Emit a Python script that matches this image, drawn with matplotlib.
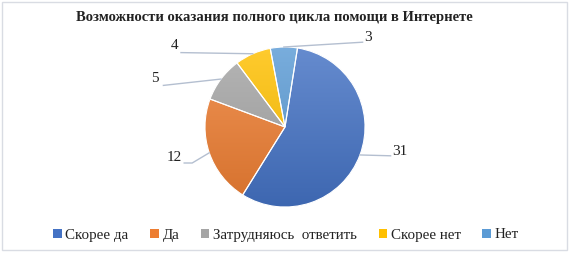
import matplotlib
matplotlib.use("Agg")
import matplotlib.pyplot as plt
import numpy as np
from matplotlib.patches import Rectangle
from matplotlib.colors import to_rgb

categories = ["Скорее да", "Да", "Затрудняюсь  ответить", "Скорее нет", "Нет"]
values = [31, 12, 5, 4, 3]
colors = ["#4472C4", "#ED7D31", "#A5A5A5", "#FFC000", "#5B9BD5"]
title = "Возможности оказания полного цикла помощи в Интернете"

plt.rcParams['font.family'] = ['Liberation Serif', 'DejaVu Serif']

fig = plt.figure(figsize=(5.72, 2.57), dpi=100)
fig.patch.set_facecolor("white")
fig.patches.append(Rectangle((2/572, 7/257), 565/572, 248/257, transform=fig.transFigure,
                             fill=False, edgecolor="#D9DCE3", linewidth=1.0))

# pie axes: center (285,127), radius 80 px
r_px = 80
cx, cy = 285, 127
ax = fig.add_axes([(cx - r_px) / 572, (257 - cy - r_px) / 257, 2 * r_px / 572, 2 * r_px / 257])
wedges, _ = ax.pie(values, colors=colors, startangle=81, counterclock=False,
                   wedgeprops=dict(linewidth=0.8, edgecolor="white"))
ax.set_xlim(-1, 1); ax.set_ylim(-1, 1)
ax.set_aspect('auto')
ax.axis('off')

# vertical gradient fill (lighter at top, darker at bottom), clipped to each wedge
yy = np.linspace(0, 1, 200)[:, None]
for w, c in zip(wedges, colors):
    base = np.array(to_rgb(c))
    top = base + (1 - base) * 0.18
    bot = base * 0.90
    grad = top[None, None, :] * yy[..., None] + bot[None, None, :] * (1 - yy[..., None])
    grad = np.repeat(grad, 2, axis=1)
    im = ax.imshow(grad, extent=(-1, 1, -1, 1), origin='lower', aspect='auto', zorder=w.get_zorder() + 0.1)
    im.set_clip_path(w)
    ax.add_patch(matplotlib.patches.Wedge(w.center, w.r, w.theta1, w.theta2, facecolor='none',
                                          edgecolor='white', linewidth=0.8, zorder=w.get_zorder() + 0.2))
ax.set_xlim(-1, 1); ax.set_ylim(-1, 1)

# label positions (pie units) and leader line bends
label_pos = [(1.43, -0.31), (-1.38, -0.38), (-1.63, 0.61), (-1.38, 1.02), (1.04, 1.12)]
line_pts = [
    [(1.32, -0.36)],
    [(-1.16, -0.45), (-1.26, -0.45)],
    [(-1.52, 0.52)],
    [(-1.30, 0.93)],
    [(0.97, 1.06)],
]
for w, v, lp, pts in zip(wedges, values, label_pos, line_pts):
    ang = np.deg2rad((w.theta1 + w.theta2) / 2)
    ex, ey = np.cos(ang), np.sin(ang)
    xs = [ex] + [p[0] for p in pts]
    ys = [ey] + [p[1] for p in pts]
    ax.plot(xs, ys, color="#B4BFD0", lw=1.0, clip_on=False, zorder=5)
    ax.text(lp[0], lp[1], str(v), ha='center', va='center', fontsize=11, color="#222222")

fig.text(274/572, 1 - 18/257, title, ha='center', va='center', fontsize=10.5,
         fontweight='bold', color="#222222")

handles = [Rectangle((0, 0), 1, 1, facecolor=c, edgecolor='none') for c in colors]
leg = fig.legend(handles, categories, loc='center', bbox_to_anchor=(286/572, 1 - 235/257),
                 ncol=5, frameon=False, fontsize=10.8, handlelength=0.55, handleheight=0.55,
                 handletextpad=0.25, columnspacing=1.45)
for t in leg.get_texts():
    t.set_color("#222222")

fig.savefig("out.png", dpi=100)
